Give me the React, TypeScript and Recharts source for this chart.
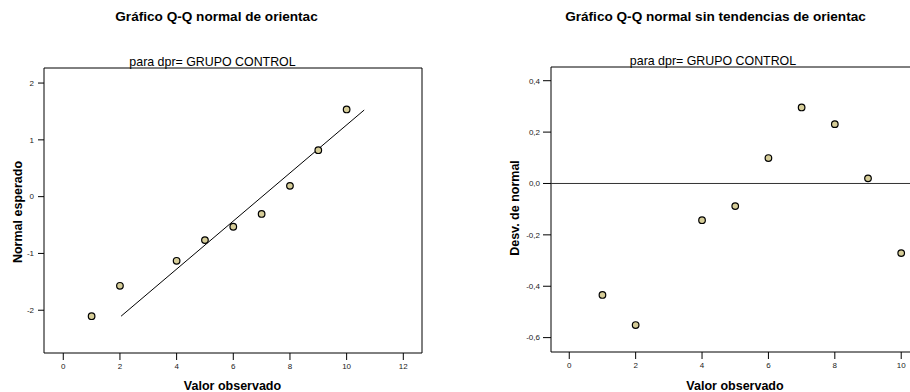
import React from "react";
import {
  ComposedChart,
  Scatter,
  XAxis,
  YAxis,
  ReferenceLine,
  ReferenceArea,
} from "recharts";

// ---- Data ----
const observed = [1, 2, 4, 5, 6, 7, 8, 9, 10];
const expectedNormal = [-2.105, -1.57, -1.13, -0.765, -0.53, -0.305, 0.19, 0.818, 1.535];
const deviation = [-0.434, -0.551, -0.143, -0.088, 0.099, 0.296, 0.231, 0.02, -0.271];
const fitLineX = [2.04, 10.62];
const fitLineY = [-2.105, 1.525];
const leftXTicks = [0, 2, 4, 6, 8, 10, 12];
const leftYTicks = [-2, -1, 0, 1, 2];
const rightXTicks = [0, 2, 4, 6, 8, 10];
const rightYTicks = [-0.6, -0.4, -0.2, 0.0, 0.2, 0.4];

const leftData = observed.map((x, i) => ({ x, y: expectedNormal[i] }));
const rightData = observed.map((x, i) => ({ x, y: deviation[i] }));

const FONT = '"Liberation Sans", Arial, Helvetica, sans-serif';
const MARKER_FILL = "#d6cd98";

const leftXDomain: [number, number] = [-0.68, 12.66];
const leftYDomain: [number, number] = [-2.753, 2.265];
const rightXDomain: [number, number] = [-0.55, 11.5];
const rightYDomain: [number, number] = [-0.656, 0.4534];

const Dot = (props: any) => {
  const { cx, cy } = props;
  if (cx == null || cy == null) return null;
  return <circle cx={cx} cy={cy} r={3.3} fill={MARKER_FILL} stroke="#000" strokeWidth={1.2} />;
};

const tickStyle = { fontSize: 8, fill: "#222", fontFamily: FONT };

const abs = (s: React.CSSProperties): React.CSSProperties => ({
  position: "absolute",
  fontFamily: FONT,
  color: "#000",
  whiteSpace: "nowrap",
  lineHeight: 1,
  ...s,
});

export default function App() {
  return (
    <div
      style={{
        position: "absolute",
        left: 0,
        top: 0,
        width: 910,
        height: 392,
        overflow: "hidden",
        background: "#fff",
      }}
    >
      {/* Left chart */}
      <div style={{ position: "absolute", left: 0, top: 0 }}>
        <ComposedChart
          width={455}
          height={392}
          data={leftData}
          margin={{ top: 68, right: 33, bottom: 0, left: 0 }}
        >
          <XAxis
            type="number"
            dataKey="x"
            domain={leftXDomain}
            ticks={leftXTicks}
            allowDataOverflow
            height={39}
            axisLine={false}
            tickLine={{ stroke: "#000" }}
            tickSize={7}
            tickMargin={3}
            tick={tickStyle}
          />
          <YAxis
            type="number"
            dataKey="y"
            domain={leftYDomain}
            ticks={leftYTicks}
            allowDataOverflow
            width={44}
            axisLine={false}
            tickLine={{ stroke: "#000" }}
            tickSize={6}
            tickMargin={4}
            tick={tickStyle}
          />
          <ReferenceArea
            x1={leftXDomain[0]}
            x2={leftXDomain[1]}
            y1={leftYDomain[0]}
            y2={leftYDomain[1]}
            fill="none"
            stroke="#000"
            strokeWidth={1}
            ifOverflow="visible"
          />
          <ReferenceLine
            segment={[
              { x: fitLineX[0], y: fitLineY[0] },
              { x: fitLineX[1], y: fitLineY[1] },
            ]}
            stroke="#000"
            strokeWidth={1}
            ifOverflow="visible"
          />
          <Scatter data={leftData} dataKey="y" shape={<Dot />} isAnimationActive={false} />
        </ComposedChart>
      </div>

      {/* Right chart */}
      <div style={{ position: "absolute", left: 455, top: 0 }}>
        <ComposedChart
          width={520}
          height={392}
          data={rightData}
          margin={{ top: 67, right: 24, bottom: 0, left: 0 }}
        >
          <XAxis
            type="number"
            dataKey="x"
            domain={rightXDomain}
            ticks={rightXTicks}
            allowDataOverflow
            height={40}
            axisLine={false}
            tickLine={{ stroke: "#000" }}
            tickSize={7}
            tickMargin={3}
            tick={tickStyle}
          />
          <YAxis
            type="number"
            dataKey="y"
            domain={rightYDomain}
            ticks={rightYTicks}
            allowDataOverflow
            width={96}
            axisLine={false}
            tickLine={{ stroke: "#000" }}
            tickSize={8}
            tickMargin={3}
            tick={tickStyle}
            tickFormatter={(v: number) => v.toFixed(1).replace(".", ",")}
          />
          <ReferenceArea
            x1={rightXDomain[0]}
            x2={rightXDomain[1]}
            y1={rightYDomain[0]}
            y2={rightYDomain[1]}
            fill="none"
            stroke="#000"
            strokeWidth={1}
            ifOverflow="visible"
          />
          <ReferenceLine y={0} stroke="#333" strokeWidth={1} />
          <Scatter data={rightData} dataKey="y" shape={<Dot />} isAnimationActive={false} />
        </ComposedChart>
      </div>

      {/* Titles */}
      <div style={abs({ left: 216.5, top: 10, transform: "translateX(-50%)", fontSize: 13.6, fontWeight: "bold" })}>
        Gráfico Q-Q normal de orientac
      </div>
      <div style={abs({ left: 212.5, top: 56, transform: "translateX(-50%)", fontSize: 12.4 })}>
        para dpr= GRUPO CONTROL
      </div>
      <div style={abs({ left: 715.5, top: 10, transform: "translateX(-50%)", fontSize: 13.6, fontWeight: "bold" })}>
        Gráfico Q-Q normal sin tendencias de orientac
      </div>
      <div style={abs({ left: 713, top: 55, transform: "translateX(-50%)", fontSize: 12.4 })}>
        para dpr= GRUPO CONTROL
      </div>

      {/* Axis titles */}
      <div style={abs({ left: 232.5, top: 379.5, transform: "translateX(-50%)", fontSize: 12.5, fontWeight: "bold" })}>
        Valor observado
      </div>
      <div style={abs({ left: 735, top: 379.5, transform: "translateX(-50%)", fontSize: 12.5, fontWeight: "bold" })}>
        Valor observado
      </div>
      <div
        style={abs({
          left: 18,
          top: 211.5,
          transform: "translate(-50%, -50%) rotate(-90deg)",
          fontSize: 12.5,
          fontWeight: "bold",
        })}
      >
        Normal esperado
      </div>
      <div
        style={abs({
          left: 515,
          top: 208,
          transform: "translate(-50%, -50%) rotate(-90deg)",
          fontSize: 12.5,
          fontWeight: "bold",
        })}
      >
        Desv. de normal
      </div>
    </div>
  );
}
